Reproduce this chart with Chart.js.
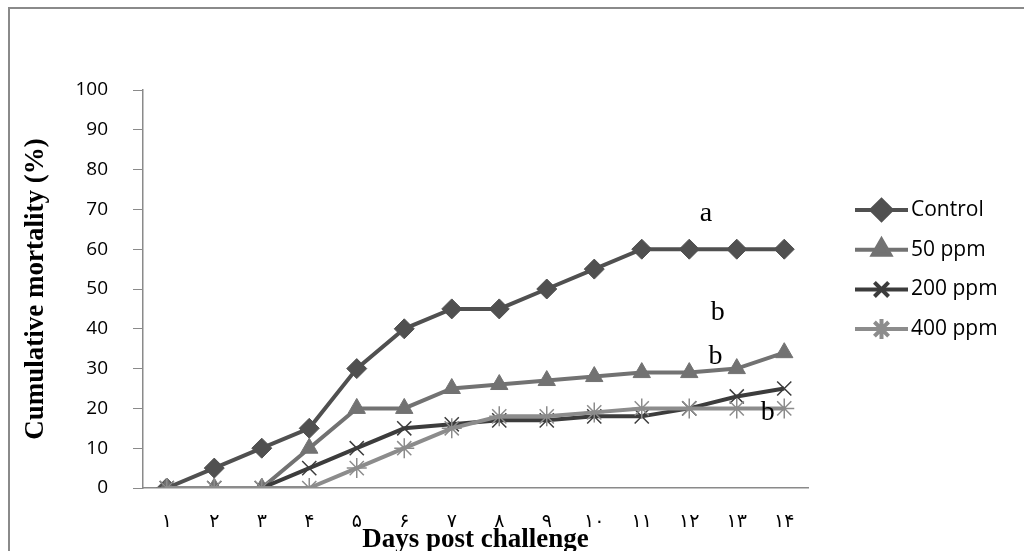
<!DOCTYPE html>
<html>
<head>
<meta charset="utf-8">
<script src="https://cdn.jsdelivr.net/npm/chart.js@4"></script>
<style>
  body { margin: 0; background: #fff; }
  #wrap { position: relative; width: 1024px; height: 551px; }
  #frame { position: absolute; left: 8px; top: 7px; width: 1030px; height: 560px;
           border-left: 2px solid #8a8a8a; border-top: 2px solid #8a8a8a; box-sizing: border-box; }
</style>
</head>
<body>
<div id="wrap">
  <div id="frame"></div>
  <canvas id="mortalityChart" width="1024" height="551"></canvas>
</div>
<script>
// days shown with Persian digits, like the original figure
const days = ['۱', '۲', '۳', '۴', '۵', '۶', '۷', '۸', '۹', '۱۰', '۱۱', '۱۲', '۱۳', '۱۴'];
const control = [0, 5, 10, 15, 30, 40, 45, 45, 50, 55, 60, 60, 60, 60];
const ppm50 = [0, 0, 0, 10, 20, 20, 25, 26, 27, 28, 29, 29, 30, 34];
const ppm200 = [0, 0, 0, 5, 10, 15, 16, 17, 17, 18, 18, 20, 23, 25];
const ppm400 = [0, 0, 0, 0, 5, 10, 15, 18, 18, 19, 20, 20, 20, 20];
const yTicks = [0, 10, 20, 30, 40, 50, 60, 70, 80, 90, 100];

// significance letters: [x index, y value, text]
const letters = [
  [11.35, 69, 'a'],
  [11.6, 44, 'b'],
  [11.55, 33, 'b'],
  [12.65, 19, 'b']
];

const tickFont = { family: "'Open Sans', 'DejaVu Sans', sans-serif", size: 19 };
const serifBold = { family: "'Liberation Serif', 'DejaVu Serif', serif", size: 27, weight: 'bold' };

// letters next to the lines
const letterPlugin = {
  id: 'letters',
  afterDatasetsDraw(chart) {
    const ctx = chart.ctx;
    const xs = chart.scales.x, ys = chart.scales.y;
    ctx.save();
    ctx.font = "28px 'Liberation Serif', serif";
    ctx.fillStyle = '#000';
    ctx.textAlign = 'center';
    ctx.textBaseline = 'middle';
    letters.forEach(l => {
      ctx.fillText(l[2], xs.getPixelForValue(l[0]), ys.getPixelForValue(l[1]));
    });
    ctx.restore();
  }
};

// Excel-style legend: line with the marker in the middle
const legendPlugin = {
  id: 'sideLegend',
  afterDraw(chart) {
    const ctx = chart.ctx;
    const x0 = 855, x1 = 908;
    let y = 210;
    chart.data.datasets.forEach(ds => {
      ctx.save();
      ctx.strokeStyle = ds.borderColor;
      ctx.lineWidth = ds.borderWidth;
      ctx.beginPath();
      ctx.moveTo(x0, y);
      ctx.lineTo(x1, y);
      ctx.stroke();
      ctx.fillStyle = ds.borderColor;
      Chart.helpers.drawPoint(ctx, {
        pointStyle: ds.pointStyle,
        radius: ds.pointRadius,
        rotation: 0,
        borderWidth: ds.pointBorderWidth
      }, (x0 + x1) / 2, y);
      ctx.restore();
      ctx.save();
      ctx.font = "21px 'Open Sans', sans-serif";
      ctx.fillStyle = '#000';
      ctx.textBaseline = 'middle';
      ctx.fillText(ds.label, x1 + 3, y);
      ctx.restore();
      y += 39.7;
    });
  }
};

function series(label, data, color, style, radius, bw) {
  return {
    label: label,
    data: data,
    borderColor: color,
    backgroundColor: color,
    borderWidth: 4,
    pointStyle: style,
    pointRadius: radius,
    pointHoverRadius: radius,
    pointBorderWidth: bw,
    pointBackgroundColor: color,
    pointBorderColor: color,
    tension: 0
  };
}

const datasets = [
  series('Control', control, '#505050', 'rectRot', 10, 1),
  series('50 ppm', ppm50, '#727272', 'triangle', 10, 1),
  series('200 ppm', ppm200, '#3c3c3c', 'crossRot', 10, 1.5),
  series('400 ppm', ppm400, '#8c8c8c', 'star', 10, 1.5)
];
datasets.forEach((d, i) => { d.order = datasets.length - i; });

new Chart(document.getElementById('mortalityChart'), {
  type: 'line',
  data: { labels: days, datasets: datasets },
  options: {
    responsive: false,
    animation: false,
    layout: { padding: { left: 20, right: 216, top: 90, bottom: 0 } },
    plugins: { legend: { display: false }, tooltip: { enabled: false } },
    scales: {
      x: {
        offset: true,
        grid: { display: false, drawTicks: false },
        border: { display: true, color: '#8a8a8a', width: 1.5 },
        ticks: { color: '#000', font: tickFont, padding: 22, maxRotation: 0, autoSkip: false },
        title: {
          display: true, text: 'Days post challenge', color: '#000', font: serifBold,
          padding: { top: 0, bottom: -5 }
        },
        afterFit(scale) { scale.height = 63; }
      },
      y: {
        min: 0, max: 100,
        afterBuildTicks(scale) { scale.ticks = yTicks.map(v => ({ value: v })); },
        grid: { drawOnChartArea: false, drawTicks: true, tickLength: 10, color: '#8a8a8a' },
        border: { display: true, color: '#8a8a8a', width: 1.5 },
        ticks: { color: '#000', font: tickFont, padding: 25 },
        title: {
          display: true, text: 'Cumulative mortality (%)', color: '#000', font: serifBold,
          padding: { top: 0, bottom: 2 }
        },
        afterFit(scale) { scale.width = 123; }
      }
    }
  },
  plugins: [letterPlugin, legendPlugin]
});
</script>
</body>
</html>
